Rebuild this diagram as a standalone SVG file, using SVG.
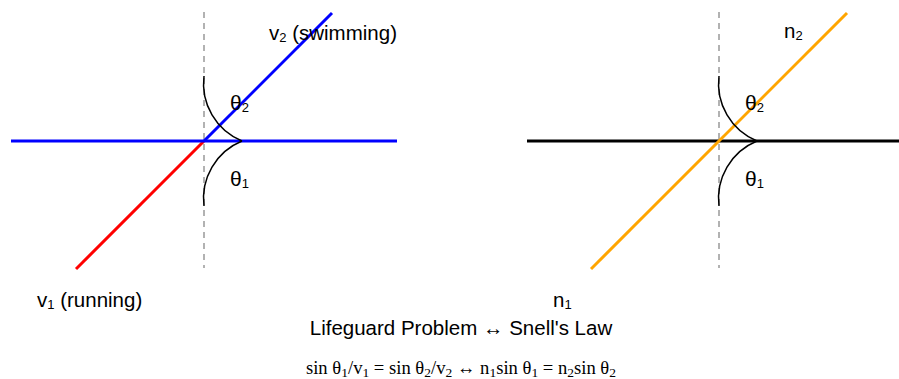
<svg xmlns="http://www.w3.org/2000/svg" width="899" height="379" viewBox="0 0 899 379">
<style>
.bg{fill:#ffffff}
.normal{stroke:#999999;stroke-width:1.5;stroke-dasharray:6 5;fill:none}
.ray{stroke-width:3;fill:none}
.arc{stroke:#000000;stroke-width:1.5;fill:none}
.lbl{font-family:"Liberation Sans",Arial,Helvetica,sans-serif;font-size:20.5px;fill:#000000}
.th{font-family:"Liberation Sans",Arial,Helvetica,sans-serif;font-size:21px;fill:#000000}
.eq{font-family:"Liberation Serif","Times New Roman",serif;font-size:18.6px;fill:#000000}
</style>
<rect class="bg" x="0" y="0" width="899" height="379"/>
<g id="connectors">
  <!-- left panel -->
  <line class="normal" x1="204" y1="12" x2="204" y2="268"/>
  <line class="ray" x1="76" y1="269" x2="204" y2="141" stroke="#ff0000"/>
  <line class="ray" x1="11" y1="141" x2="397" y2="141" stroke="#0000ff"/>
  <line class="ray" x1="204" y1="141" x2="332" y2="13" stroke="#0000ff"/>
  <path class="arc" d="M204,76 A62 62 0 0 0 242,141"/>
  <path class="arc" d="M242,141 A62 62 0 0 0 204,206"/>
  <!-- right panel -->
  <line class="normal" x1="719" y1="12" x2="719" y2="268"/>
  <line class="ray" x1="527" y1="141" x2="899" y2="141" stroke="#000000"/>
  <line class="ray" x1="591" y1="269" x2="847" y2="13" stroke="#ffa500"/>
  <path class="arc" d="M719,76 A62 62 0 0 0 757,141"/>
  <path class="arc" d="M757,141 A62 62 0 0 0 719,206"/>
</g>
<g id="left-labels">
  <text class="lbl" x="269" y="40">v<tspan font-size="13" dy="2">2</tspan><tspan dy="-2"> (swimming)</tspan></text>
  <text class="lbl" x="37" y="307">v<tspan font-size="13" dy="2">1</tspan><tspan dy="-2"> (running)</tspan></text>
  <text class="th" x="230" y="110">θ<tspan font-size="13" dy="2">2</tspan></text>
  <text class="th" x="230" y="186">θ<tspan font-size="13" dy="2">1</tspan></text>
</g>
<g id="right-labels">
  <text class="lbl" x="784" y="38">n<tspan font-size="13" dy="2">2</tspan></text>
  <text class="lbl" x="553" y="307">n<tspan font-size="13" dy="2">1</tspan></text>
  <text class="th" x="745" y="110">θ<tspan font-size="13" dy="2">2</tspan></text>
  <text class="th" x="745" y="186">θ<tspan font-size="13" dy="2">1</tspan></text>
</g>
<g id="title">
  <text class="lbl" x="461" y="335" text-anchor="middle">Lifeguard Problem ↔ Snell's Law</text>
</g>
<g id="formula">
  <text class="eq" x="461" y="374" text-anchor="middle">sin θ<tspan font-size="13.5" dy="3">1</tspan><tspan dy="-3">/v</tspan><tspan font-size="13.5" dy="3">1</tspan><tspan dy="-3"> = sin θ</tspan><tspan font-size="13.5" dy="3">2</tspan><tspan dy="-3">/v</tspan><tspan font-size="13.5" dy="3">2</tspan><tspan dy="-3"> ↔ n</tspan><tspan font-size="13.5" dy="3">1</tspan><tspan dy="-3">sin θ</tspan><tspan font-size="13.5" dy="3">1</tspan><tspan dy="-3"> = n</tspan><tspan font-size="13.5" dy="3">2</tspan><tspan dy="-3">sin θ</tspan><tspan font-size="13.5" dy="3">2</tspan></text>
</g>
</svg>
